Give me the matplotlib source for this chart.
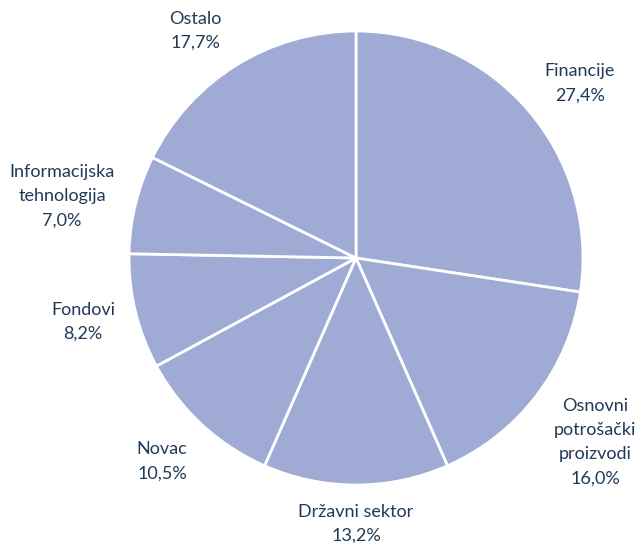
import matplotlib.pyplot as plt
import numpy as np

# ---------------------------------------------------------------------------
# Data
# ---------------------------------------------------------------------------
categories = ['Financije', 'Osnovni\npotrošački\nproizvodi', 'Državni sektor',
              'Novac', 'Fondovi', 'Informacijska\ntehnologija', 'Ostalo']
shares = [27.4, 16.0, 13.2, 10.5, 8.2, 7.0, 17.7]

# ---------------------------------------------------------------------------
# Style
# ---------------------------------------------------------------------------
SLICE_COLOR = '#A0ABD5'
TEXT_COLOR = '#1F3A57'
# label placement: radial distance (in radii) and angle nudge (deg) per slice
LABEL_DIST = [1.252, 1.329, 1.172, 1.237, 1.235, 1.324, 1.226]
LABEL_NUDGE = [-2.7, -0.2, 0.0, -1.0, -0.5, 1.8, 3.4]
FONT = ['Lato', 'DejaVu Sans']

W, H, DPI = 638, 543, 100
CX, CY, R = 356, 258, 227   # pie centre / radius in pixels

fig = plt.figure(figsize=(W / DPI, H / DPI), dpi=DPI)
ax = fig.add_axes([0, 0, 1, 1])

wedges, _ = ax.pie(shares, startangle=90, counterclock=False,
                   colors=[SLICE_COLOR] * len(shares),
                   wedgeprops=dict(edgecolor='white', linewidth=2))

# labels placed radially from each wedge's mid angle
for w, name, val, d, nudge in zip(wedges, categories, shares,
                                  LABEL_DIST, LABEL_NUDGE):
    ang = np.deg2rad((w.theta1 + w.theta2) / 2 + nudge)
    txt = f"{name}\n{val:.1f}%".replace('.', ',')
    ax.text(d * np.cos(ang), d * np.sin(ang), txt, ha='center', va='center',
            fontsize=13, color=TEXT_COLOR, family=FONT, linespacing=1.62)

ax.set_xlim(-CX / R, (W - CX) / R)
ax.set_ylim(-(H - CY) / R, CY / R)
ax.set_aspect('auto')
ax.axis('off')

fig.savefig('out.png', dpi=DPI, facecolor='white')
